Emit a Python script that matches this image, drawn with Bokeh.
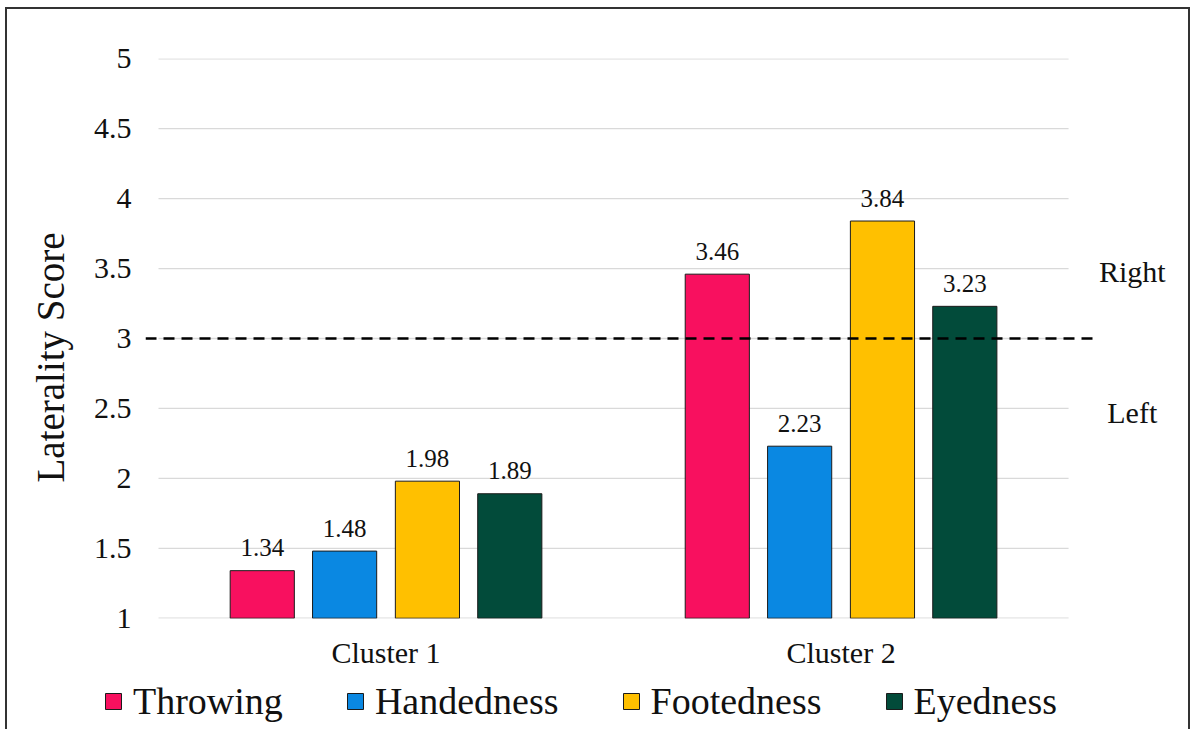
from bokeh.plotting import figure
from bokeh.layouts import column
from bokeh.models import (ColumnDataSource, Range1d, Legend, LegendItem, Label,
                          FixedTicker, Title)
from bokeh.transform import dodge
from bokeh.core.properties import value
from bokeh.embed import file_html
from bokeh.resources import INLINE

# ---- data ----
clusters = ["Cluster 1", "Cluster 2"]
series_names = ["Throwing", "Handedness", "Footedness", "Eyedness"]
throwing = [1.34, 3.46]
handedness = [1.48, 2.23]
footedness = [1.98, 3.84]
eyedness = [1.89, 3.23]
colors = ["#F8105F", "#0A88E2", "#FFC000", "#024B3A"]
y_ticks = [1, 1.5, 2, 2.5, 3, 3.5, 4, 4.5, 5]
threshold = 3
side_labels = ["Right", "Left"]
side_label_y = [3.48, 2.47]
y_title = "Laterality Score"

FONT = "Liberation Serif"

positions = [i + 0.5 for i in range(len(clusters))]
values = [throwing, handedness, footedness, eyedness]
data = {"cluster": clusters, "pos": positions}
for name, vals in zip(series_names, values):
    data[name] = vals
    data[name + "_lbl"] = ["%.2f" % v for v in vals]
src = ColumnDataSource(data)

W, H1, H2 = 1181, 672, 48
p = figure(x_range=Range1d(-0.0286, 2.246), y_range=Range1d(0.998, 5.002),
           width=W, height=H1,
           output_backend="svg", toolbar_location=None,
           min_border_left=138, min_border_right=8,
           min_border_top=49, min_border_bottom=63)
p.outline_line_color = None
p.background_fill_color = "white"
p.border_fill_color = "white"

# horizontal gridlines spanning the category area only
n = len(y_ticks)
p.segment(x0=[0] * n, x1=[len(clusters)] * n, y0=y_ticks, y1=y_ticks,
          line_color="#d9d9d9", line_width=1.3, level="underlay")

offsets = [-0.272, -0.091, 0.091, 0.272]
for name, col, off in zip(series_names, colors, offsets):
    p.vbar(x=dodge("pos", off), top=name, bottom=1,
           width=0.141, source=src, fill_color=col,
           line_color="#1b1b1b", line_width=1)
    p.text(x=dodge("pos", off), y=name, text=name + "_lbl",
           source=src, text_align="center", text_baseline="alphabetic",
           y_offset=-23, text_font=value(FONT), text_font_size="25px",
           text_color="#111111")

# threshold dashed line (extends right of the bars)
p.segment(x0=[-0.0286], x1=[2.055], y0=[threshold], y1=[threshold],
          line_color="black", line_width=2.5, line_dash="11 7")

for txt, yy in zip(side_labels, side_label_y):
    p.add_layout(Label(x=2.14, y=yy, text=txt, text_align="center",
                       text_baseline="middle", text_font=FONT,
                       text_font_size="30px", text_color="#111111"))

# axes
p.yaxis.ticker = FixedTicker(ticks=y_ticks)
p.yaxis.major_label_text_font = FONT
p.yaxis.major_label_text_font_size = "30px"
p.yaxis.major_label_text_color = "#111111"
p.yaxis.major_label_standoff = 14
p.xaxis.ticker = FixedTicker(ticks=positions)
p.xaxis.major_label_overrides = {pos: c for pos, c in zip(positions, clusters)}
p.xaxis.major_label_text_font = FONT
p.xaxis.major_label_text_font_size = "30px"
p.xaxis.major_label_text_color = "#111111"
p.xaxis.major_label_standoff = 17
for ax in (p.xaxis, p.yaxis):
    ax.axis_line_color = None
    ax.major_tick_line_color = None
    ax.minor_tick_line_color = None
    ax.major_tick_out = 0
    ax.major_tick_in = 0

# y-axis title (as a side title so it can sit slightly below centre)
p.add_layout(Title(text=y_title, align="left", offset=136, standoff=37,
                   text_font=FONT, text_font_size="39px",
                   text_font_style="normal", text_color="#111111"), "left")

p.xgrid.grid_line_color = None
p.ygrid.grid_line_color = None
p.frame_align = False

# ---- legend strip below the chart ----
q = figure(width=W, height=H2, x_range=(0, 1), y_range=(10, 11),
           output_backend="svg", toolbar_location=None,
           x_axis_location=None, y_axis_location=None,
           min_border_left=0, min_border_right=0, min_border_top=0,
           min_border_bottom=0)
q.frame_align = False
q.outline_line_color = None
q.xgrid.grid_line_color = None
q.ygrid.grid_line_color = None
items = []
for name, col, off in zip(series_names, colors, offsets):
    # proxy bars (outside this strip's visible range) used only for the legend keys
    r = q.vbar(x=dodge("pos", off), top=name, bottom=1, width=0.141, source=src,
               fill_color=col, line_color="#1b1b1b", line_width=1)
    items.append(LegendItem(label=name, renderers=[r]))
legend = Legend(items=items, orientation="horizontal", location=(96, 6),
                padding=0, margin=0, spacing=62, label_standoff=10,
                glyph_width=20, glyph_height=20,
                label_text_font=FONT, label_text_font_size="38px",
                label_text_color="#111111", border_line_color=None,
                background_fill_alpha=0)
q.add_layout(legend, "center")

layout = column(p, q, spacing=0)
layout.styles = {"margin-left": "5px", "margin-top": "7px",
                 "border-left": "2px solid #333", "border-top": "2px solid #333",
                 "border-right": "2px solid #333"}

open("out.html", "w").write(file_html(layout, INLINE))
